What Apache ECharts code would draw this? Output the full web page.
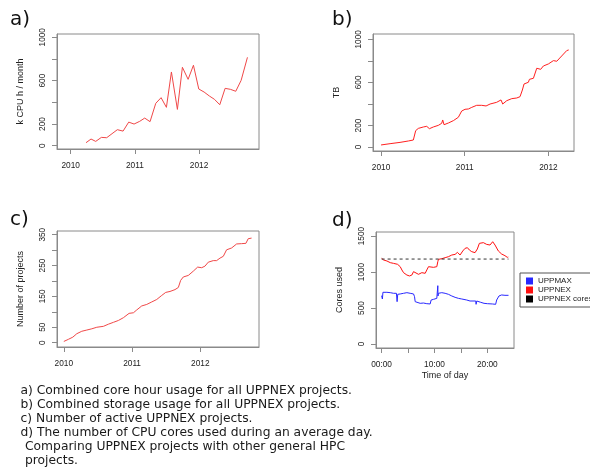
<!DOCTYPE html>
<html><head><meta charset="utf-8">
<script src="https://cdn.jsdelivr.net/npm/echarts@6/dist/echarts.min.js"></script>
<style>html,body{margin:0;padding:0;background:#fff}#c{width:590px;height:468px}</style>
</head><body><div id="c"></div>
<script>
// a) core hour usage (k CPU h / month)
const aYears = [2010.239,2010.317,2010.390,2010.478,2010.561,2010.644,2010.727,2010.816,2010.904,2010.987,2011.075,2011.153,2011.236,2011.325,2011.408,2011.491,2011.569,2011.662,2011.740,2011.829,2011.912,2011.995,2012.078,2012.161,2012.239,2012.322,2012.405,2012.488,2012.571,2012.655,2012.753];
const aValues = [28,62,40,77,74,111,148,135,218,200,225,255,222,391,443,354,680,335,723,612,742,523,495,458,428,378,529,520,502,603,815];
// b) storage usage (TB)
const bYears = [2010.0,2010.108,2010.227,2010.327,2010.386,2010.402,2010.414,2010.446,2010.506,2010.546,2010.578,2010.625,2010.685,2010.725,2010.737,2010.753,2010.805,2010.865,2010.924,2010.964,2011.004,2011.044,2011.084,2011.143,2011.203,2011.255,2011.303,2011.382,2011.434,2011.454,2011.502,2011.562,2011.622,2011.661,2011.689,2011.709,2011.761,2011.773,2011.821,2011.861,2011.880,2011.908,2011.940,2012.0,2012.060,2012.080,2012.100,2012.159,2012.219,2012.243];
const bValues = [19,31,43,56,65,74,152,173,186,192,170,186,201,220,251,207,223,245,276,334,350,353,368,387,387,381,399,415,437,399,430,449,455,467,529,585,601,628,638,731,737,721,752,771,802,817,796,845,895,901];
// c) number of active projects
const cYears = [2010.0,2010.068,2010.132,2010.190,2010.263,2010.337,2010.410,2010.483,2010.580,2010.654,2010.727,2010.800,2010.873,2010.956,2011.020,2011.068,2011.141,2011.215,2011.288,2011.361,2011.434,2011.493,2011.556,2011.629,2011.678,2011.712,2011.751,2011.824,2011.898,2011.961,2012.020,2012.068,2012.117,2012.190,2012.239,2012.288,2012.337,2012.385,2012.459,2012.532,2012.605,2012.668,2012.702,2012.751];
const cValues = [4,11,18,29,37,41,45,50,53,60,66,72,81,95,97,106,119,124,132,140,153,163,166,172,179,202,213,218,232,245,243,248,261,266,266,274,280,301,307,320,321,322,337,339];
// d) cores used during an average day
const dRedHours = [0.0,0.38,1.01,1.64,2.26,2.58,3.02,3.52,3.84,4.15,4.47,4.78,5.28,5.72,6.04,6.35,6.98,7.61,8.24,8.55,8.87,9.18,9.81,10.44,10.63,10.75,11.38,12.01,12.64,13.27,13.90,14.34,14.84,15.35,15.79,16.23,16.60,17.04,17.67,17.99,18.11,18.49,19.25,19.87,20.19,20.50,21.01,21.45,22.08,22.70,23.33,23.77,23.96];
const dRedValues = [1190,1167,1153,1130,1120,1097,1107,1074,1028,991,968,958,945,958,1005,982,968,991,982,1028,1074,1060,1065,1074,1144,1176,1185,1199,1213,1236,1245,1273,1236,1292,1329,1338,1306,1283,1269,1283,1320,1398,1408,1384,1366,1375,1421,1375,1292,1250,1227,1204,1208];
const dBlueHours = [0.0,0.15,0.25,1.0,1.64,2.26,2.8,2.93,3.05,3.52,4.15,4.47,4.78,5.4,6.04,6.23,6.35,6.67,7.3,7.92,8.55,9.18,9.37,9.81,10.44,10.6,10.63,10.67,10.75,11.38,12.01,12.64,13.27,13.90,14.53,15.16,16.10,16.73,17.04,17.8,17.87,18.0,18.11,18.74,19.37,20.0,20.94,21.57,21.76,22.2,22.70,23.33,24.0];
const dBlueValues = [671,625,718,718,713,704,704,588,690,695,704,681,713,704,695,657,588,574,565,569,560,556,611,620,634,634,810,667,704,713,704,690,667,648,634,625,611,597,588,597,551,597,579,579,565,560,556,551,611,667,681,676,676];
const coresAllocated = 1180;
const dCoreHours = [0, 24];
// tick labels
const yearTicks = [2010, 2011, 2012];
const aYTicks = [0,200,400,600,800,1000], aYLabels = [0,200,600,1000];
const bYTicks = [0,200,400,600,800,1000], bYLabels = [0,200,600,1000];
const cYTicks = [0,50,100,150,200,250,300,350], cYLabels = [0,50,150,250,350];
const dYTicks = [0,500,1000,1500], dYLabels = [0,500,1000,1500];
const dXTicks = [0,5,10,15,20], dXLabels = [0,10,20];
const seriesNames = ['UPPMAX','UPPNEX','UPPNEX cores'];
const captionLines = [
  'a) Combined core hour usage for all UPPNEX projects.',
  'b) Combined storage usage for all UPPNEX projects.',
  'c) Number of active UPPNEX projects.',
  'd) The number of CPU cores used during an average day.',
  'Comparing UPPNEX projects with other general HPC',
  'projects.'
];

const zip = (xs, ys) => xs.map((x, i) => [x, ys[i]]);
const FONT = '"Liberation Sans", Arial, sans-serif';
const AX = '#8a8a8a';
const grids = [
  {left: 57, top: 34, width: 202, height: 115, show: true, borderColor: AX, borderWidth: 1},
  {left: 373, top: 34, width: 201, height: 117, show: true, borderColor: AX, borderWidth: 1},
  {left: 57, top: 231, width: 202, height: 116, show: true, borderColor: AX, borderWidth: 1},
  {left: 376, top: 232, width: 138, height: 116, show: true, borderColor: AX, borderWidth: 1}
];
function xAx(gi, min, max, ticks, labels, fmt, name) {
  return {
    type: 'value', gridIndex: gi, min, max, position: 'bottom',
    axisLine: {show: true, onZero: false, lineStyle: {color: AX}},
    axisTick: {show: true, length: 5, customValues: ticks, lineStyle: {color: AX}},
    axisLabel: {customValues: labels, margin: 13, fontSize: 8.3, fontFamily: FONT, color: '#222', formatter: fmt},
    splitLine: {show: false},
    name: name || '', nameLocation: 'middle', nameGap: 23,
    nameTextStyle: {fontSize: 9, fontFamily: FONT, color: '#222'}
  };
}
function yAx(gi, min, max, ticks, labels, name) {
  return {
    type: 'value', gridIndex: gi, min, max, position: 'left',
    axisLine: {show: true, onZero: false, lineStyle: {color: AX}},
    axisTick: {show: true, length: 5, customValues: ticks, lineStyle: {color: AX}},
    axisLabel: {customValues: labels, rotate: 90, margin: 10, fontSize: 8.3, fontFamily: FONT, color: '#222', formatter: v => String(v)},
    splitLine: {show: false},
    name, nameLocation: 'middle', nameGap: 32,
    nameTextStyle: {fontSize: 9, fontFamily: FONT, color: '#222'}
  };
}
const yearFmt = v => String(Math.round(v));
const hourFmt = v => String(Math.round(v)).padStart(2, '0') + ':00';
function line(name, xi, data, color, extra) {
  return Object.assign({
    name, type: 'line', xAxisIndex: xi, yAxisIndex: xi, data,
    showSymbol: false, symbol: 'none', animation: false, silent: true,
    itemStyle: {color}, lineStyle: {color, width: 1}
  }, extra || {});
}
const graphics = [];
[['a)', 10, 22], ['b)', 332, 22], ['c)', 10, 222], ['d)', 332, 223]].forEach(([t, x, y]) => {
  graphics.push({type: 'text', left: x, top: y - 12, style: {text: t, fontSize: 20, fontFamily: '"DejaVu Sans"', fill: '#111'}});
});
captionLines.forEach((t, i) => {
  graphics.push({type: 'text', left: i >= 4 ? 25 : 20.5, top: 384.5 + i * 14, style: {text: t, fontSize: 12.3, fontFamily: '"DejaVu Sans"', fill: '#1a1a1a'}});
});

const chart = echarts.init(document.getElementById('c'), null, {renderer: 'canvas'});
chart.setOption({
  animation: false,
  backgroundColor: '#fff',
  grid: grids,
  xAxis: [
    xAx(0, 2009.787, 2012.933, yearTicks, yearTicks, yearFmt),
    xAx(1, 2009.904, 2012.306, yearTicks, yearTicks, yearFmt),
    xAx(2, 2009.9, 2012.86, yearTicks, yearTicks, yearFmt),
    xAx(3, -1.06, 25.04, dXTicks, dXLabels, hourFmt, 'Time of day')
  ],
  yAxis: [
    yAx(0, -30, 1030, aYTicks, aYLabels, 'k CPU h / month'),
    yAx(1, -37, 1049, bYTicks, bYLabels, 'TB'),
    yAx(2, -14, 362, cYTicks, cYLabels, 'Number of projects'),
    yAx(3, -56, 1556, dYTicks, dYLabels, 'Cores used')
  ],
  legend: {
    data: seriesNames, orient: 'vertical', left: 520, top: 273,
    icon: 'rect', itemWidth: 7, itemHeight: 7, itemGap: 1,
    padding: [4, 30, 4, 6], borderColor: '#555', borderWidth: 1,
    textStyle: {fontSize: 8, lineHeight: 8, fontFamily: FONT, color: '#222'},
    selectedMode: false
  },
  graphic: graphics,
  series: [
    line('a', 0, zip(aYears, aValues), '#f04848'),
    line('b', 1, zip(bYears, bValues), '#ff2020'),
    line('c', 2, zip(cYears, cValues), '#f04848'),
    line('UPPMAX', 3, zip(dBlueHours, dBlueValues), '#2828ff'),
    line('UPPNEX', 3, zip(dRedHours, dRedValues), '#ff1010'),
    line('UPPNEX cores', 3, dCoreHours.map(h => [h, coresAllocated]), '#000', {lineStyle: {color: '#333', width: 1, type: [3, 3]}})
  ]
});
</script></body></html>
